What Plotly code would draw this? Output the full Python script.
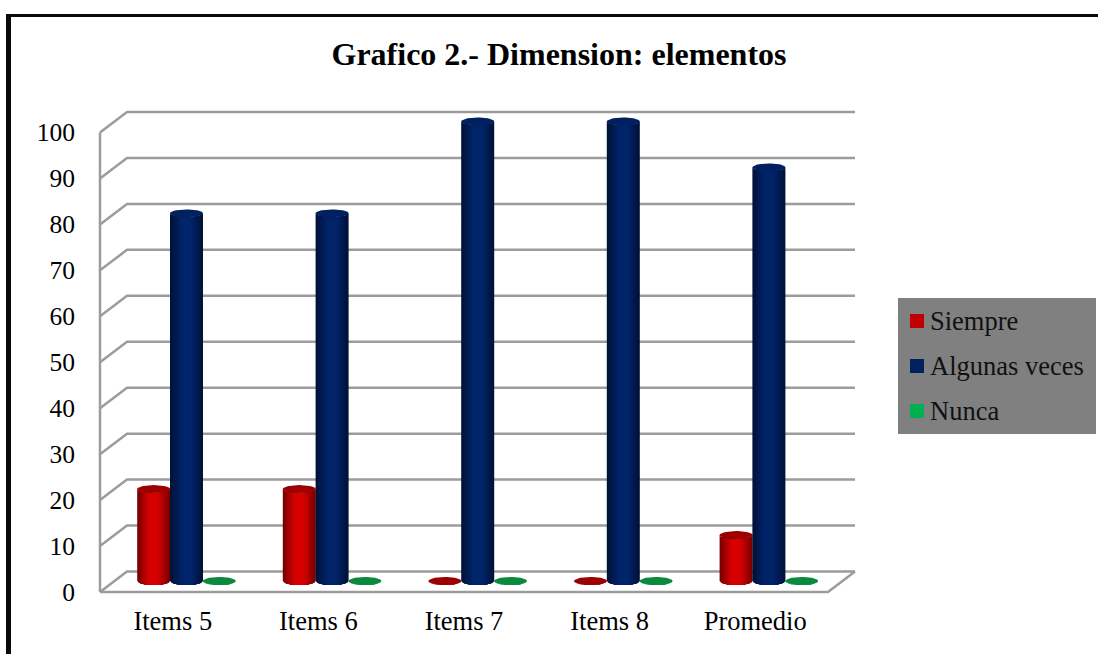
import numpy as np
import plotly.graph_objects as go

FONT = "Liberation Serif"

# data
categories = ["Items 5", "Items 6", "Items 7", "Items 8", "Promedio"]
siempre = [20, 20, 0, 0, 10]
algunas_veces = [80, 80, 100, 100, 90]
nunca = [0, 0, 0, 0, 0]
value_ticks = [0, 10, 20, 30, 40, 50, 60, 70, 80, 90, 100]
series_names = ["Siempre", "Algunas veces", "Nunca"]
series_colors = ["#c00000", "#002060", "#00b050"]

# figure geometry, in pixels; the plot area has 4px spare all round so lines are not clipped
W, H = 1098, 654
SPARE = 4
LEFT, RIGHT, TOP, BOTTOM = 100 - SPARE, 855 + SPARE, 112 - SPARE, 592 + SPARE
PX_PER_CAT = 145.6
PX_PER_VAL = 4.6

# fake 3d depth, converted to axis units
WALL_DX = 27 / PX_PER_CAT
WALL_DY = 20.5 / PX_PER_VAL
BAR_DX = 13.7 / PX_PER_CAT
BAR_DY = 11 / PX_PER_VAL
GROUP_STEP = 32.8 / PX_PER_CAT
RADIUS = 16.5 / PX_PER_CAT
CAP = 4 / PX_PER_VAL

X_MIN = -0.5
X_FRONT_END = 4.5
GRID = "#9c9c9c"


def paper_x(px):
    return (px - LEFT) / (RIGHT - LEFT)


def paper_y(px):
    return (BOTTOM - px) / (BOTTOM - TOP)


def mix(c1, c2, t):
    return "rgb(%d,%d,%d)" % tuple(round(a + (b - a) * t) for a, b in zip(c1, c2))


def box(x0, x1, y0, y1, color):
    return dict(type="rect", xref="paper", yref="paper", layer="below", line_width=0, fillcolor=color,
                x0=paper_x(x0), x1=paper_x(x1), y0=paper_y(y1), y1=paper_y(y0))


def add_walls(fig):
    xs, ys = [], []
    for v in value_ticks:
        # diagonal on the side wall, then the line along the back wall
        xs += [X_MIN, X_MIN + WALL_DX, X_FRONT_END + WALL_DX, None]
        ys += [v, v + WALL_DY, v + WALL_DY, None]
    # the front axis lines and the floor's right edge
    xs += [X_MIN, X_MIN, None, X_MIN, X_FRONT_END, X_FRONT_END + WALL_DX]
    ys += [value_ticks[-1], 0, None, 0, 0, WALL_DY]
    fig.add_trace(go.Scatter(x=xs, y=ys, mode="lines", showlegend=False, hoverinfo="skip",
                             line=dict(color=GRID, width=2.5)))


def add_cylinders(fig, values, pos, edge, mid, cap):
    center_off = BAR_DX + pos * GROUP_STEP
    # nested strips, widest and darkest first, to shade the cylinder
    for frac in np.linspace(1, 0.12, 14):
        xs, ys = [], []
        t = min((1 - frac) / 0.7, 1)
        for i, v in enumerate(values):
            u = np.linspace(-RADIUS * frac, RADIUS * frac, 25)
            arc = CAP * np.sqrt(np.clip(1 - (u / RADIUS) ** 2, 0, 1))
            xs += list(i + center_off + u) + list(i + center_off + u[::-1]) + [None]
            ys += list(BAR_DY - arc) + list(BAR_DY + v - arc[::-1]) + [None]
        fig.add_trace(go.Scatter(x=xs, y=ys, mode="lines", fill="toself", showlegend=False,
                                 hoverinfo="skip", line=dict(width=0), fillcolor=mix(edge, mid, t)))
    # top of each cylinder
    xs, ys = [], []
    a = np.linspace(0, 2 * np.pi, 49)
    for i, v in enumerate(values):
        xs += list(i + center_off + RADIUS * np.cos(a)) + [None]
        ys += list(BAR_DY + v + CAP * np.sin(a)) + [None]
    fig.add_trace(go.Scatter(x=xs, y=ys, mode="lines", fill="toself", showlegend=False,
                             hoverinfo="skip", line=dict(width=0), fillcolor=cap))


fig = go.Figure()
add_walls(fig)
add_cylinders(fig, siempre, -1, (120, 0, 0), (214, 0, 0), "#9c0000")
add_cylinders(fig, algunas_veces, 0, (0, 18, 56), (0, 36, 106), "#00205f")
add_cylinders(fig, nunca, 1, (10, 138, 62), (10, 138, 62), "#0b8a3e")

# grey box on the right with its swatches and names
legend_shapes = [box(898, 1096, 298, 434, "#808080")]
legend_notes = []
for name, color, row_y in zip(series_names, series_colors, [321, 366, 411]):
    legend_shapes.append(box(910, 924, row_y - 7, row_y + 7, color))
    legend_notes.append(dict(text=name, xref="paper", yref="paper", x=paper_x(928), y=paper_y(row_y),
                             xanchor="left", yanchor="middle", showarrow=False,
                             font=dict(family=FONT, size=26.5, color="#111111")))

fig.update_layout(
    width=W,
    height=H,
    margin=dict(l=LEFT, r=W - RIGHT, t=TOP, b=H - BOTTOM, autoexpand=False, pad=0),
    paper_bgcolor="white",
    plot_bgcolor="white",
    showlegend=False,
    font=dict(family=FONT, size=25, color="black"),
    title=dict(text="<b>Grafico 2.- Dimension: elementos</b>", x=559 / W, xanchor="center",
               y=1 - 54 / H, yanchor="middle", font=dict(family=FONT, size=32, color="black")),
    annotations=legend_notes,
    # black frame runs along the top and left only
    shapes=legend_shapes + [box(6, 1098, 14, 17, "#0a0a0a"), box(6, 11, 14, 654, "#0a0a0a")],
)
fig.update_xaxes(range=[X_MIN - SPARE / PX_PER_CAT, X_FRONT_END + WALL_DX + SPARE / PX_PER_CAT], tickmode="array",
                 tickvals=list(range(len(categories))), ticktext=categories, showgrid=False,
                 zeroline=False, showline=False, ticks="outside", ticklen=1,
                 tickcolor="rgba(0,0,0,0)", tickfont=dict(family=FONT, size=26.5))
fig.update_yaxes(range=[-SPARE / PX_PER_VAL, value_ticks[-1] + WALL_DY + SPARE / PX_PER_VAL], tickmode="array",
                 tickvals=value_ticks, showgrid=False, zeroline=False, showline=False, ticks="outside",
                 ticklen=15, tickcolor="rgba(0,0,0,0)", tickfont=dict(family=FONT, size=25.5))

fig.write_html("out.html", config=dict(displayModeBar=False), post_script="document.body.style.margin='0';")
